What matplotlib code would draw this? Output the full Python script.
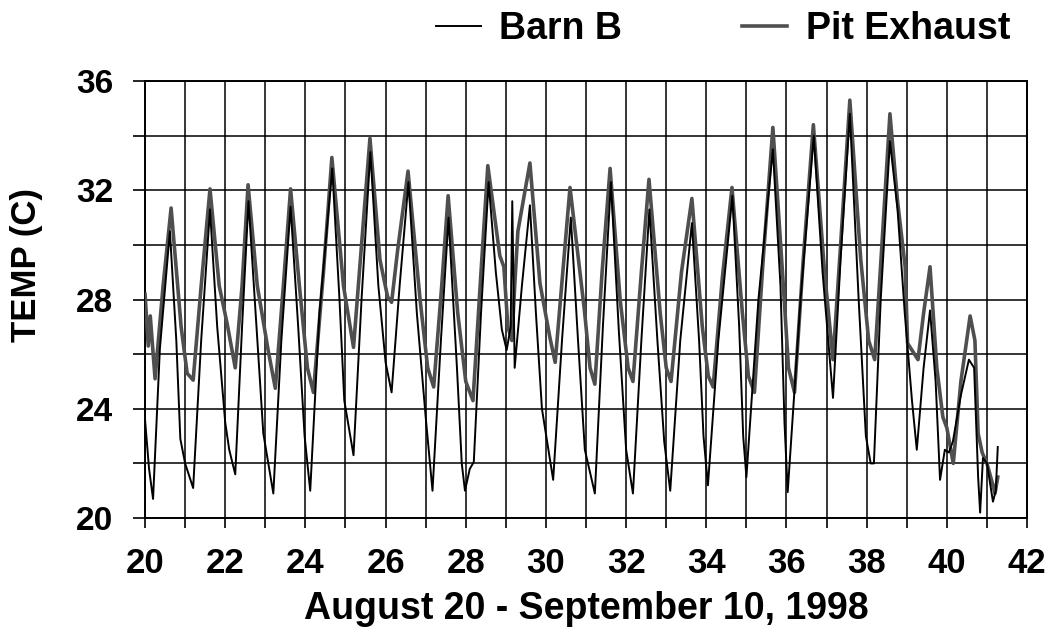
import matplotlib
matplotlib.use('Agg')
import matplotlib.pyplot as plt
from matplotlib.ticker import MultipleLocator

# Barn B readings (day of month, temp C)
barn_day = [20.00, 20.10, 20.20, 20.37, 20.62, 20.78, 20.88, 21.00, 21.20, 21.40,
            21.62, 21.80, 22.00, 22.10, 22.25, 22.42, 22.58, 22.78, 22.95, 23.20,
            23.40, 23.63, 23.82, 23.98, 24.12, 24.35, 24.67, 24.85, 24.97, 25.20,
            25.40, 25.62, 25.82, 26.00, 26.15, 26.35, 26.57, 26.78, 27.00, 27.17,
            27.38, 27.57, 27.78, 27.90, 27.98, 28.10, 28.20, 28.38, 28.57, 28.75,
            28.90, 29.02, 29.12, 29.16, 29.22, 29.40, 29.60, 29.75, 29.90, 30.18,
            30.40, 30.62, 30.80, 30.97, 31.22, 31.42, 31.62, 31.82, 32.00, 32.17,
            32.38, 32.58, 32.78, 32.95, 33.10, 33.35, 33.64, 33.82, 33.93, 34.04,
            34.30, 34.65, 34.82, 34.92, 35.00, 35.30, 35.66, 35.85, 35.95, 36.03,
            36.35, 36.68, 36.90, 37.16, 37.35, 37.58, 37.80, 37.98, 38.10, 38.18,
            38.35, 38.58, 38.77, 38.95, 39.13, 39.25, 39.42, 39.58, 39.72, 39.83,
            39.95, 40.05, 40.15, 40.35, 40.55, 40.68, 40.78, 40.83, 40.90, 41.00,
            41.15, 41.22, 41.27]
barn_temp = [23.6, 21.8, 20.7, 26.2, 30.5, 26.5, 22.9, 22.0, 21.1, 26.5,
             31.3, 27.0, 23.5, 22.5, 21.6, 27.0, 31.6, 27.0, 23.1, 20.9,
             26.5, 31.4, 27.0, 23.0, 21.0, 27.5, 32.8, 28.0, 24.3, 22.3,
             28.0, 33.4, 28.5, 25.7, 24.6, 28.5, 32.3, 27.5, 23.7, 21.0,
             26.5, 31.0, 25.5, 22.0, 21.0, 21.8, 22.05, 27.5, 32.3, 29.0,
             26.9, 26.15, 27.0, 31.6, 25.5, 28.5, 31.45, 27.5, 24.0, 21.4,
             26.5, 31.0, 26.5, 22.5, 20.9, 27.0, 32.3, 26.8, 22.5, 20.9,
             26.5, 31.3, 26.5, 22.8, 21.0, 26.5, 30.8, 26.5, 23.0, 21.2,
             26.5, 31.8, 27.0, 23.0, 21.5, 28.0, 33.5, 28.5, 23.5, 20.95,
             28.0, 34.0, 29.0, 24.4, 29.5, 34.8, 28.0, 23.0, 22.0, 22.0,
             28.0, 33.8, 31.3, 27.5, 24.3, 22.5, 25.5, 27.6, 25.0, 21.4,
             22.5, 22.4, 22.8, 24.5, 25.8, 25.5, 21.5, 20.2, 22.2, 22.0,
             20.6, 21.0, 22.6]

# Pit Exhaust readings (day of month, temp C)
pit_day = [20.00, 20.08, 20.13, 20.25, 20.45, 20.65, 20.90, 21.05, 21.20, 21.40,
           21.62, 21.85, 22.05, 22.25, 22.42, 22.57, 22.80, 23.07, 23.25, 23.45,
           23.63, 23.85, 24.05, 24.20, 24.45, 24.66, 24.95, 25.20, 25.40, 25.61,
           25.86, 26.05, 26.15, 26.30, 26.56, 26.86, 27.05, 27.20, 27.40, 27.56,
           27.80, 28.00, 28.18, 28.38, 28.55, 28.85, 28.95, 29.05, 29.15, 29.22,
           29.30, 29.60, 29.85, 30.10, 30.23, 30.42, 30.60, 30.96, 31.10, 31.22,
           31.40, 31.60, 31.85, 32.05, 32.17, 32.38, 32.57, 32.85, 33.00, 33.12,
           33.38, 33.64, 33.90, 34.05, 34.17, 34.40, 34.64, 34.90, 35.05, 35.20,
           35.42, 35.66, 35.90, 36.05, 36.20, 36.42, 36.67, 36.95, 37.16, 37.35,
           37.58, 37.85, 38.05, 38.20, 38.38, 38.58, 38.77, 38.96, 39.02, 39.28,
           39.42, 39.58, 39.75, 39.90, 40.00, 40.16, 40.35, 40.58, 40.70, 40.78,
           40.88, 41.00, 41.15, 41.20, 41.27]
pit_temp = [28.2, 26.3, 27.4, 25.1, 28.5, 31.35, 27.0, 25.3, 25.05, 28.5,
            32.05, 28.5, 27.1, 25.5, 28.5, 32.2, 28.5, 26.15, 24.75, 28.5,
            32.05, 28.5, 25.5, 24.6, 29.0, 33.2, 28.5, 26.25, 30.0, 33.9,
            29.45, 28.1, 27.9, 29.8, 32.7, 28.0, 25.5, 24.8, 28.5, 31.8,
            27.5, 25.0, 24.3, 29.0, 32.9, 29.6, 29.2, 27.0, 26.5, 28.5,
            30.5, 33.0, 28.6, 26.6, 25.7, 29.0, 32.1, 27.6, 25.5, 24.9,
            29.0, 32.8, 28.0, 25.5, 25.0, 29.0, 32.4, 27.5, 25.5, 25.0,
            29.0, 31.7, 27.0, 25.2, 24.8, 28.8, 32.1, 27.5, 25.2, 24.6,
            29.5, 34.3, 29.0, 25.5, 24.6, 29.5, 34.4, 29.0, 25.8, 30.0,
            35.3, 29.5, 26.5, 25.8, 30.0, 34.8, 31.6, 29.2, 26.4, 25.8,
            27.5, 29.2, 25.5, 23.7, 23.3, 22.0, 25.0, 27.4, 26.5, 23.1,
            22.4, 22.0, 21.2, 20.9, 21.5]

x_ticks = list(range(20, 43, 2))
y_ticks = [20, 24, 28, 32, 36]

plt.rcParams['font.family'] = ['Liberation Sans', 'DejaVu Sans']
plt.rcParams['font.weight'] = 'bold'

fig = plt.figure(figsize=(10.48, 6.38), dpi=100)
ax = fig.add_axes([0.1384, 0.188, 0.8416, 0.685])

ax.plot(pit_day, pit_temp, color='#4f4f4f', lw=2.6, label='Pit Exhaust', zorder=3)
ax.plot(barn_day, barn_temp, color='black', lw=1.4, label='Barn B', zorder=4)

ax.set_xlim(20, 42)
ax.set_ylim(20, 36)
ax.set_xticks(x_ticks)
ax.set_yticks(y_ticks)
ax.xaxis.set_minor_locator(MultipleLocator(1))
ax.yaxis.set_minor_locator(MultipleLocator(2))
ax.grid(True, which='both', color='black', lw=1.1)
ax.set_axisbelow(True)
for s in ax.spines.values():
    s.set_linewidth(1.4)

ax.tick_params(axis='x', which='both', length=7, width=1.2, pad=14, labelsize=25)
ax.tick_params(axis='y', which='both', length=9, width=1.2, pad=14, labelsize=24)

ax.set_xlabel('August 20 - September 10, 1998', fontsize=27, fontweight='bold', labelpad=8)
ax.set_ylabel('TEMP (C)', fontsize=25, fontweight='bold')
ax.yaxis.set_label_coords(-0.116, 0.58)

handles, labels = ax.get_legend_handles_labels()
fig.legend(handles[::-1], labels[::-1], loc='center', bbox_to_anchor=(0.69, 0.955), ncol=2,
           frameon=False, handlelength=1.2, handletextpad=0.5, columnspacing=3.2,
           prop={'weight': 'bold', 'size': 27})

fig.savefig('out.png', dpi=100)
